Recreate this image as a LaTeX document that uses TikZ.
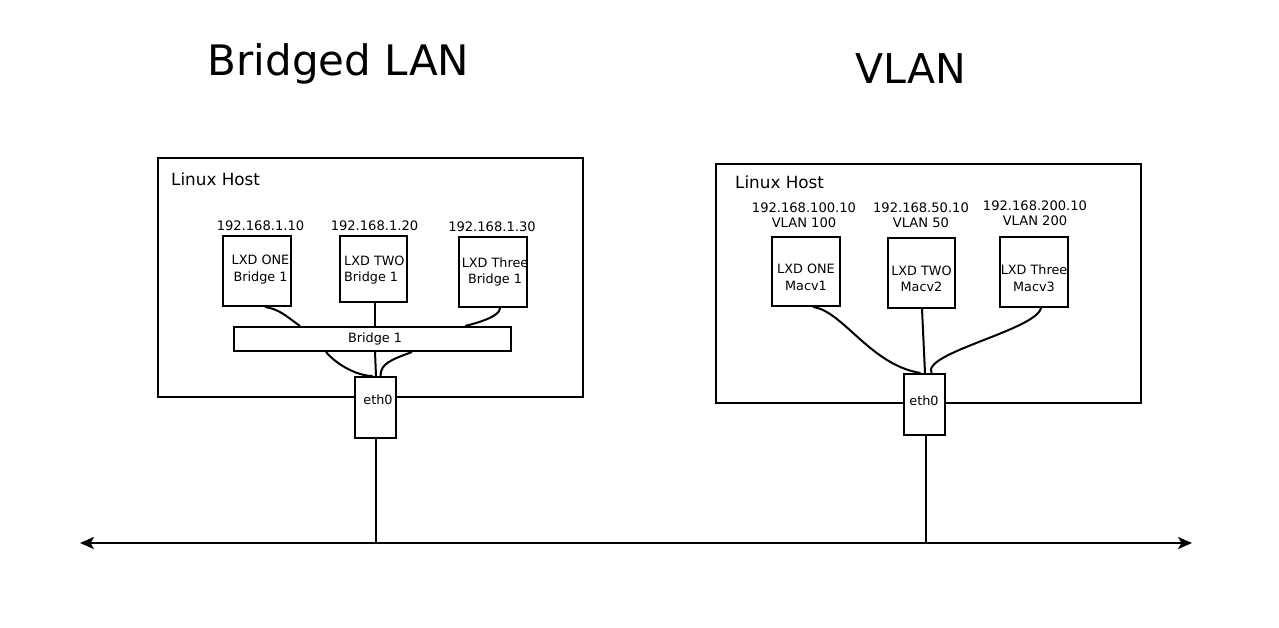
\documentclass[tikz,border=0pt]{standalone}
\usepackage{fontspec}
\setmainfont{DejaVu Sans}
\usetikzlibrary{arrows.meta}
\tikzset{lantip/.tip={Stealth[length=14pt,width=12pt,inset=3.5pt]}}
\begin{document}
\begin{tikzpicture}[x=1pt,y=-1pt,
  box/.style={draw, line width=2pt, inner sep=0pt},
  boxtxt/.style={font=\fontsize{12.8}{16.5}\selectfont, align=center, inner sep=0pt},
  host/.style={draw, line width=2pt, inner sep=0pt},
  wire/.style={line width=2pt},
  ip/.style={font=\fontsize{13.1}{15}\selectfont, align=center, inner sep=0pt},
  title/.style={font=\fontsize{42}{50}\selectfont, inner sep=0pt, anchor=base},
  hostlbl/.style={font=\fontsize{16.8}{20}\selectfont, inner sep=0pt, anchor=base west},
  lan/.style={line width=2pt, arrows={lantip-lantip}}]
\useasboundingbox (0,0) rectangle (1279,628);

% ---------- titles
\node[title] (t1) at (338.5,76) {Bridged LAN};
\node[title,font=\fontsize{41}{50}\selectfont] (t2) at (910.5,84) {VLAN};

% ---------- left host
\node[host, minimum width=425pt, minimum height=239pt] (hostL) at (370.5,277.5) {};
\node[hostlbl] (hlL) at (171,186) {Linux Host};

\node[ip] (ipL1) at (260.5,226) {192.168.1.10};
\node[ip] (ipL2) at (374.5,226) {192.168.1.20};
\node[ip] (ipL3) at (492,227) {192.168.1.30};

\node[box, minimum width=68pt, minimum height=70pt] (l1) at (257,271) {};
\node[boxtxt] (l1t) at (260.5,269.5) {LXD ONE\\Bridge 1};
\node[box, minimum width=67pt, minimum height=66pt] (l2) at (373.5,269) {};
\node[boxtxt, align=left, anchor=west] (l2t) at (344,270) {LXD TWO\\Bridge 1};
\node[box, minimum width=68pt, minimum height=70pt] (l3) at (493,272) {};
\node[boxtxt] (l3t) at (495,272) {LXD Three\\Bridge 1};

\node[box, minimum width=277pt, minimum height=24pt] (br) at (372.5,339) {};
\node[boxtxt] (brt) at (375,339) {Bridge 1};
\node[box, fill=white, minimum width=41pt, minimum height=61pt] (ethL) at (375.5,407.5) {};
\node[boxtxt] (ethLt) at (378,400) {eth0};

% left wires
\draw[wire] ([xshift=8pt]l1.south) .. controls +(14,2) and +(-14,-10) .. ([xshift=-72.5pt]br.north);
\draw[wire] ([xshift=1.5pt]l2.south) -- ([xshift=1.5pt]l2.south |- br.north);
\draw[wire] ([xshift=7pt]l3.south) .. controls +(0,8) and +(16,-4) .. ([xshift=92.5pt]br.north);
\draw[wire] ([xshift=-46.5pt]br.south) .. controls +(12,14) and +(-14,0) .. ([xshift=-3pt]ethL.north);
\draw[wire] ([xshift=2.5pt]br.south) -- ([xshift=0.5pt]ethL.north);
\draw[wire] ([xshift=39.5pt]br.south) .. controls +(-22,8) and +(0,-12) .. ([xshift=5pt]ethL.north);

% ---------- right host
\node[host, minimum width=425pt, minimum height=239pt] (hostR) at (928.5,283.5) {};
\node[hostlbl] (hlR) at (735,189) {Linux Host};

\node[ip] (ipR1) at (804,215.5) {192.168.100.10\\VLAN 100};
\node[ip] (ipR2) at (921,215.5) {192.168.50.10\\VLAN 50};
\node[ip] (ipR3) at (1035,213.5) {192.168.200.10\\VLAN 200};

\node[box, minimum width=68pt, minimum height=69pt] (r1) at (806,271.5) {};
\node[boxtxt] (r1t) at (806,277.5) {LXD ONE\\Macv1};
\node[box, minimum width=67pt, minimum height=70pt] (r2) at (921.5,273) {};
\node[boxtxt] (r2t) at (921.5,279) {LXD TWO\\Macv2};
\node[box, minimum width=68pt, minimum height=70pt] (r3) at (1034,272) {};
\node[boxtxt] (r3t) at (1034,278) {LXD Three\\Macv3};

\node[box, fill=white, minimum width=41pt, minimum height=61pt] (ethR) at (924.5,404.5) {};
\node[boxtxt] (ethRt) at (924,401) {eth0};

% right wires
\draw[wire] ([xshift=7pt]r1.south) .. controls +(30,4) and +(-50,-8) .. ([xshift=-4pt]ethR.north);
\draw[wire] ([xshift=0.5pt]r2.south) -- ([xshift=0.5pt]ethR.north);
\draw[wire] ([xshift=7pt]r3.south) .. controls +(-5,22) and +(-10,-20) .. ([xshift=7pt]ethR.north);

% ---------- LAN
\coordinate (lanW) at (80,543);
\coordinate (lanE) at (1192,543);
\draw[lan] (lanW) -- (lanE);
\draw[wire] ([xshift=0.5pt]ethL.south) -- ([xshift=0.5pt]ethL.south |- lanW);
\draw[wire] ([xshift=1.5pt]ethR.south) -- ([xshift=1.5pt]ethR.south |- lanW);
\end{tikzpicture}
\end{document}
